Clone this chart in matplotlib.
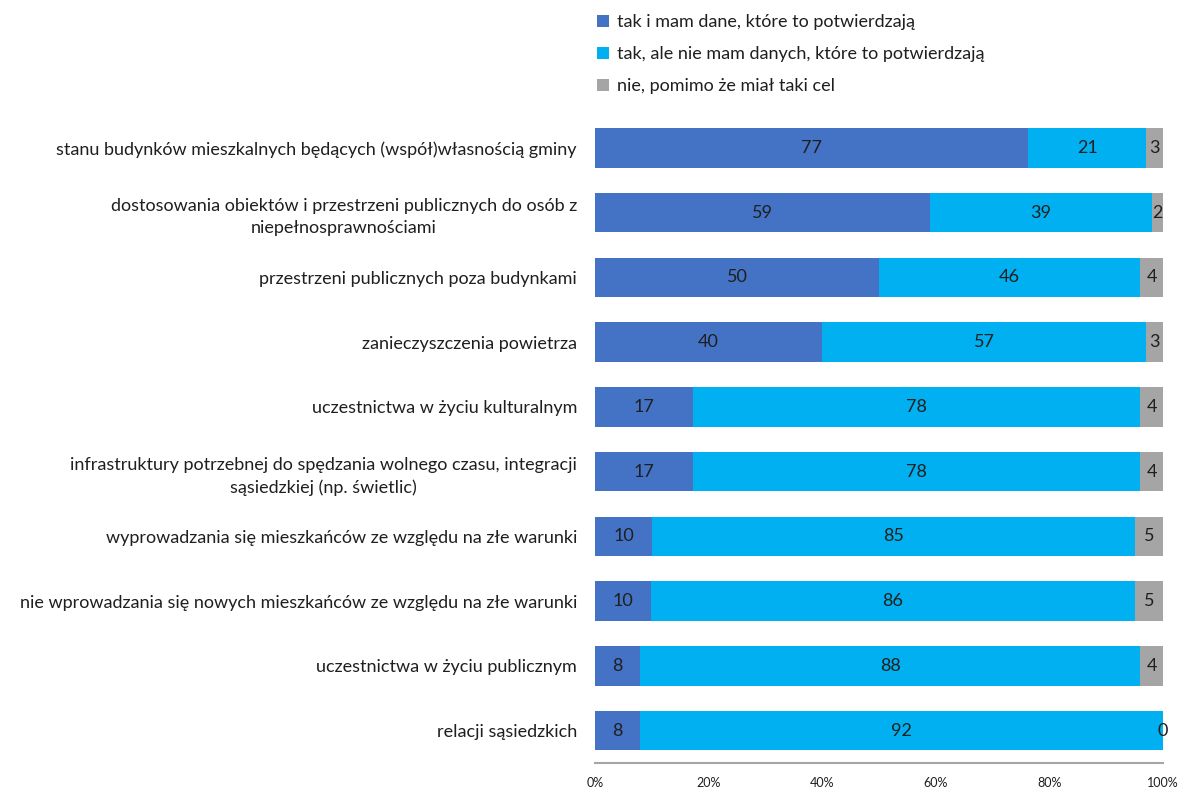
import numpy as np
import matplotlib.pyplot as plt
from matplotlib.patches import Patch

plt.rcParams['font.family'] = ['Lato', 'DejaVu Sans']

categories = [
    "stanu budynków mieszkalnych będących (współ)własnością gminy",
    "dostosowania obiektów i przestrzeni publicznych do osób z\nniepełnosprawnościami",
    "przestrzeni publicznych poza budynkami",
    "zanieczyszczenia powietrza",
    "uczestnictwa w życiu kulturalnym",
    "infrastruktury potrzebnej do spędzania wolnego czasu, integracji\nsąsiedzkiej (np. świetlic)",
    "wyprowadzania się mieszkańców ze względu na złe warunki",
    "nie wprowadzania się nowych mieszkańców ze względu na złe warunki",
    "uczestnictwa w życiu publicznym",
    "relacji sąsiedzkich",
]
tak_z_danymi = [77, 59, 50, 40, 17, 17, 10, 10, 8, 8]
tak_bez_danych = [21, 39, 46, 57, 78, 78, 85, 86, 88, 92]
nie = [3, 2, 4, 3, 4, 4, 5, 5, 4, 0]

series_names = [
    "tak i mam dane, które to potwierdzają",
    "tak, ale nie mam danych, które to potwierdzają",
    "nie, pomimo że miał taki cel",
]
colors = ["#4472C4", "#00B0F0", "#A5A5A5"]
xticks = [0, 20, 40, 60, 80, 100]

values = np.array([tak_z_danymi, tak_bez_danych, nie], dtype=float)
shares = values / values.sum(axis=0) * 100  # 100% stacked
y = np.arange(len(categories))

fig = plt.figure(figsize=(11.82, 7.90), dpi=100)
ax = fig.add_axes([595 / 1182, 1 - 763 / 790, 568 / 1182, 647.4 / 790])

left = np.zeros(len(categories))
for vals, pct, color in zip(values, shares, colors):
    ax.barh(y, pct, left=left, height=0.61, color=color, edgecolor='none')
    for yi, l, p, v in zip(y, left, pct, vals):
        ax.text(l + p / 2, yi, f"{v:.0f}", ha='center', va='center',
                fontsize=13, color='#1f1f1f')
    left += pct

ax.set_xlim(0, 100)
ax.set_ylim(9.5, -0.5)
ax.set_yticks(y)
ax.set_yticklabels(categories, fontsize=13, color='#1f1f1f', multialignment='center')
for lab in ax.get_yticklabels():
    lab.set_linespacing(1.45)
ax.set_xticks(xticks)
ax.set_xticklabels([f"{t}%" for t in xticks], fontsize=9, color='#1f1f1f')
ax.tick_params(axis='y', length=0, pad=13)
ax.tick_params(axis='x', length=0, pad=10)
for side in ['top', 'right', 'left']:
    ax.spines[side].set_visible(False)
ax.spines['bottom'].set_color('#A6A6A6')
ax.spines['bottom'].set_linewidth(1.5)

handles = [Patch(facecolor=c, edgecolor='none') for c in colors]
fig.legend(handles, series_names, loc='upper left',
           bbox_to_anchor=(581 / 1182, 1 + 2 / 790), frameon=False,
           fontsize=13, handlelength=0.65, handleheight=0.65,
           handletextpad=0.45, labelspacing=0.88, labelcolor='#1f1f1f')

plt.savefig("out.png", dpi=100)
